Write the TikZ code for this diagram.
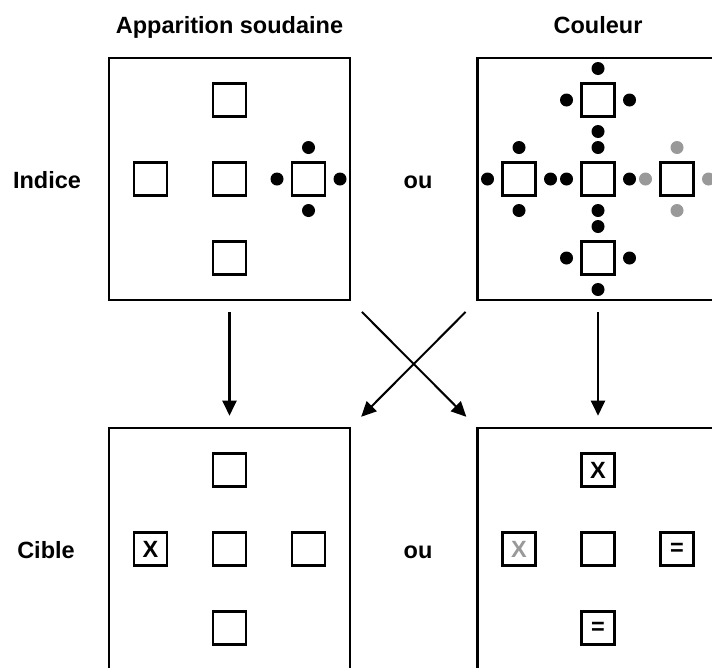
\documentclass[tikz,border=0pt]{standalone}
\usepackage{fontspec}
\setmainfont{Liberation Sans}
\usepackage{tikz}
\usetikzlibrary{arrows.meta}

\definecolor{lightdot}{gray}{0.6}

\begin{document}
\begin{tikzpicture}[x=1pt,y=-1pt,node distance=79pt,>={Triangle[length=15pt,width=14pt]},
    every node/.style={font=\fontsize{23.5}{28}\selectfont\bfseries},
    panel/.style={draw,line width=2.6pt,minimum width=241pt,minimum height=242pt,inner sep=0pt},
    cell/.style={draw,line width=2.2pt,minimum size=33pt,inner sep=0pt},
    spot/.style={circle,fill,minimum size=13pt,inner sep=0pt},
    arr/.style={->,line width=2.2pt,shorten <=11pt,shorten >=11pt},
    cross/.style={->,line width=2pt,shorten <=15pt,shorten >=14pt}]

      \useasboundingbox (0,0) rectangle (712,667);
      \clip (0,0) rectangle (712,667);

      \node[anchor=base] (ttlA) at (229.5,33) {Apparition soudaine};
      \node[anchor=base] (ttlB) at (598,33) {Couleur};
      \node[anchor=base] (indice) at (47,188) {Indice};
      \node[anchor=base] (ouA) at (418,188) {ou};
      \node[anchor=base] (cible) at (46,558) {Cible};
      \node[anchor=base] (ouB) at (418,558) {ou};

      \node[panel] (fa) at (229.5,179) {};
      \node[panel] (fb) at (598,179) {};
      \node[panel] (fc) at (229.5,549) {};
      \node[panel] (fd) at (598,549) {};

      % indice, apparition soudaine
      \node[cell] (a0) at (fa) {};
      \node[cell] (a1) [above of=a0] {};
      \node[cell] (a2) [left of=a0] {};
      \node[cell] (a3) [right of=a0] {};
      \node[cell] (a4) [below of=a0] {};

      % indice, couleur
      \node[cell] (b0) at (fb) {};
      \node[cell] (b1) [above of=b0] {};
      \node[cell] (b2) [left of=b0] {};
      \node[cell] (b3) [right of=b0] {};
      \node[cell] (b4) [below of=b0] {};

      \foreach \s in {a3,b0,b1,b2,b4}
        \foreach \ang/\nm in {90/n,270/s,180/w,0/e}
          \node[spot] (\s\nm) at ([shift={(\ang:31.5pt)}]\s) {};
      \foreach \ang/\nm in {90/n,270/s,180/w,0/e}
        \node[spot,fill=lightdot] (b3\nm) at ([shift={(\ang:31.5pt)}]b3) {};

      % cible
      \node[cell] (c0) at (fc) {};
      \node[cell] (c1) [above of=c0] {};
      \node[cell] (c2) [left of=c0] {X};
      \node[cell] (c3) [right of=c0] {};
      \node[cell] (c4) [below of=c0] {};

      \node[cell] (d0) at (fd) {};
      \node[cell] (d1) [above of=d0] {X};
      \node[cell,text=lightdot] (d2) [left of=d0] {X};
      \node[cell] (d3) [right of=d0] {=};
      \node[cell] (d4) [below of=d0] {=};

      \draw [style=arr] (fa) -- (fc);
      \draw [style=arr] (fb) -- (fd);
      \draw [style=cross] (fa.south east) -- (fd.north west);
      \draw [style=cross] (fb.south west) -- (fc.north east);
    \end{tikzpicture}
\end{document}
